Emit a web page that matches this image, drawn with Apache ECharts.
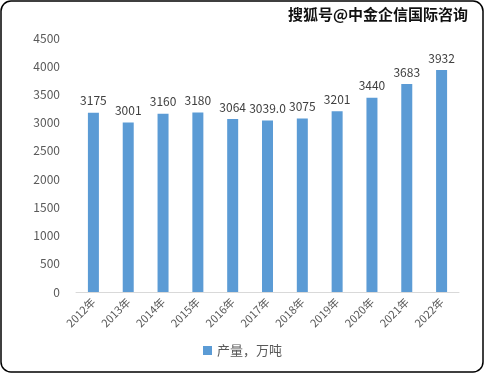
<!DOCTYPE html>
<html><head><meta charset="utf-8">
<script src="https://cdn.jsdelivr.net/npm/echarts@6/dist/echarts.min.js"></script>
<style>html,body{margin:0;padding:0;background:#fff;}#c{width:485px;height:374px;}</style>
</head><body><div id="c"></div>
<script>
var categories = ['2012年','2013年','2014年','2015年','2016年','2017年','2018年','2019年','2020年','2021年','2022年'];
var values = [3175, 3001, 3160, 3180, 3064, 3039.0, 3075, 3201, 3440, 3683, 3932];
var valueLabels = ['3175','3001','3160','3180','3064','3039.0','3075','3201','3440','3683','3932'];
var seriesName = '产量，万吨';
var watermark = '搜狐号@中金企信国际咨询';

var chart = echarts.init(document.getElementById('c'));
chart.setOption({
  animation: false,
  backgroundColor: '#fff',
  graphic: [
    {type:'rect', shape:{x:1,y:1,width:482,height:371,r:10}, style:{fill:'none', stroke:'#000', lineWidth:1.5}, silent:true},
    {type:'text', right:16, top:6, style:{text:watermark, font:'bold 15px "Noto Sans CJK SC"', fill:'#111', stroke:'#fff', lineWidth:2}}
  ],
  grid: {left:76, right:26, top:38, bottom:82},
  legend: {bottom:12, left:'center', itemWidth:9, itemHeight:9, icon:'rect',
    textStyle:{color:'#595959', fontSize:13, fontFamily:'"Noto Sans CJK SC"'}},
  xAxis: {type:'category', data:categories,
    axisLine:{lineStyle:{color:'#d9d9d9'}}, axisTick:{show:false},
    axisLabel:{rotate:45, color:'#595959', fontSize:11, margin:8, fontFamily:'"Noto Sans CJK SC"', interval:0}},
  yAxis: {type:'value', min:0, max:4500, interval:500,
    axisLine:{show:false}, axisTick:{show:false}, splitLine:{show:false},
    axisLabel:{color:'#595959', fontSize:12, margin:16, fontFamily:'"Noto Sans CJK SC"',
      formatter:function(v){return String(v);}}},
  series: [{
    name: seriesName, type:'bar', data: values, barWidth: 11,
    itemStyle:{color:'#5b9bd5'},
    label:{show:true, position:'top', color:'#404040', fontSize:12, distance:6,
      fontFamily:'"Noto Sans CJK SC"',
      formatter:function(p){return valueLabels[p.dataIndex];}}
  }]
});
</script></body></html>
